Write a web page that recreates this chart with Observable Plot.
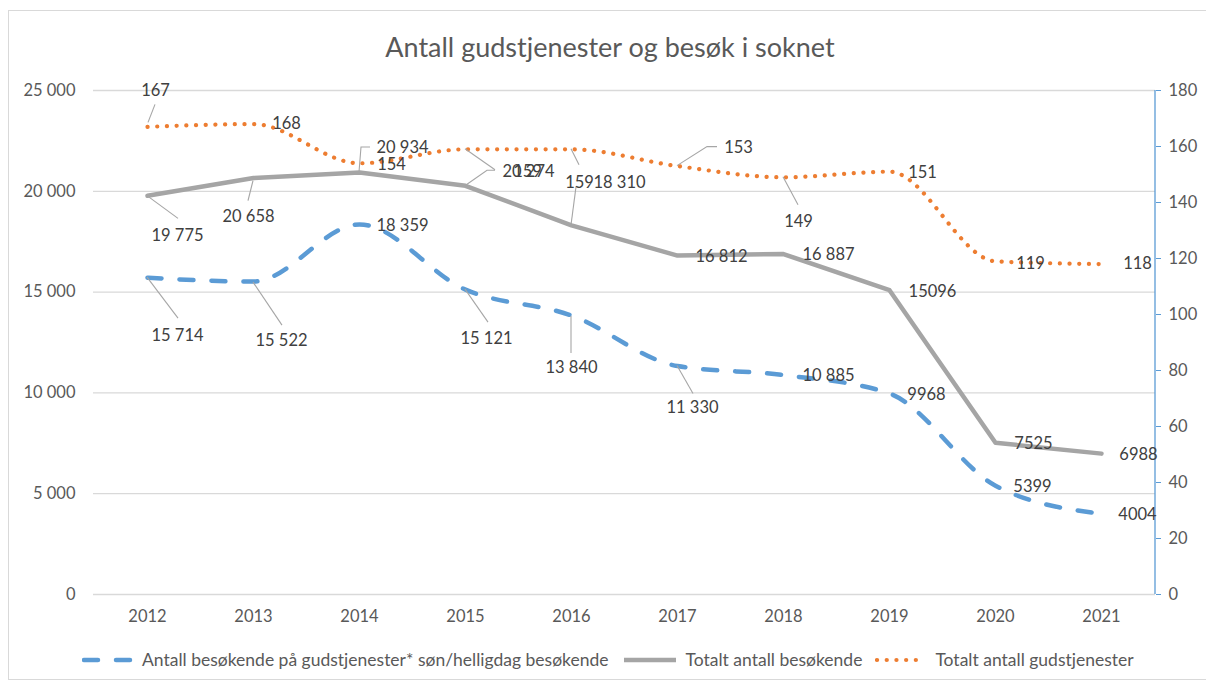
<!DOCTYPE html>
<html>
<head>
<meta charset="utf-8">
<script src="https://cdn.jsdelivr.net/npm/d3@7"></script>
<script src="https://cdn.jsdelivr.net/npm/@observablehq/plot@0.6"></script>
<style>
  body { margin: 0; background: #fff; font-family: Lato, "Open Sans", sans-serif; }
  #wrap { position: relative; width: 1206px; height: 686px; overflow: hidden; background: #fff; }
  #frame { position: absolute; left: 8px; top: 10px; width: 1210px; height: 670px; border: 1px solid #d9d9d9; box-sizing: border-box; }
  #title { position: absolute; top: 29px; left: 8px; width: 1204px; text-align: center; font-size: 27px; color: #595959; line-height: 36px; }
  #chart { position: absolute; top: 70px; left: 0; }
  #legend { position: absolute; top: 649px; left: 82px; display: flex; align-items: center; font-size: 17.5px; color: #595959; white-space: nowrap; }
  .item { display: flex; align-items: center; margin-right: 13px; }
  .item svg { margin-right: 8px; }
</style>
</head>
<body>
<div id="wrap">
  <div id="frame"></div>
  <div id="title">Antall gudstjenester og besøk i soknet</div>
  <div id="chart"></div>
  <div id="legend"></div>
</div>
<script>
// ---- data ----
const years = [2012, 2013, 2014, 2015, 2016, 2017, 2018, 2019, 2020, 2021];
const seriesNames = [
  "Antall besøkende på gudstjenester* søn/helligdag besøkende",
  "Totalt antall besøkende",
  "Totalt antall gudstjenester"
];
const visitorsHoliday = [15714, 15522, 18359, 15121, 13840, 11330, 10885, 9968, 5399, 4004];
const visitorsTotal = [19775, 20658, 20934, 20274, 18310, 16812, 16887, 15096, 7525, 6988];
const servicesTotal = [167, 168, 154, 159, 159, 153, 149, 151, 119, 118];
const visitorsHolidayLabels = ["15 714", "15 522", "18 359", "15 121", "13 840", "11 330", "10 885", "9968", "5399", "4004"];
const visitorsTotalLabels = ["19 775", "20 658", "20 934", "20 274", "18 310", "16 812", "16 887", "15096", "7525", "6988"];
const servicesTotalLabels = ["167", "168", "154", "159", "159", "153", "149", "151", "119", "118"];
const leftTicks = [0, 5000, 10000, 15000, 20000, 25000];
const rightTicks = [0, 20, 40, 60, 80, 100, 120, 140, 160, 180];

// ---- layout / style (not data) ----
const LEFT_MAX = 25000, RIGHT_MAX = 180;
const toLeft = v => v * LEFT_MAX / RIGHT_MAX;
const colors = { blue: "#5b9bd5", gray: "#a5a5a5", orange: "#ed7d31" };
const labelColor = "#404040", tickColor = "#595959", leaderColor = "#a6a6a6";
const FS = 16.5;

const blueOff = [[30,58],[28,59],[43,1],[21,49],[0,52],[15,42],[45,1],[37,1],[37,1],[36,1]];
const grayOff = [[30,40],[-5,39],[43,-25],[63,-14],[48,-43],[44,1],[45,1],[43,2],[38,1],[37,1]];
const orangeOff = [[8,-36],[33,0],[32,1],[62,22],[8,33],[61,-18],[15,44],[33,1],[35,2],[36,0]];

const blueLeaders = {0: [[0,0],[31,41]], 1: [[0,1],[29,44]], 3: [[0,0],[23,33]], 4: [[0,1],[0,38]], 5: [[0,0],[16,28]]};
const grayLeaders = {0: [[1,1],[31,23]], 1: [[0,3],[-5,23]], 2: [[0,0],[2,-25],[11,-25]], 3: [[2,-1],[22,-15],[30,-15]], 4: [[0,0],[5,-38]]};
const orangeLeaders = {0: [[1,-4],[8,-22]], 3: [[0,0],[30,21]], 4: [[0,0],[8,16]], 5: [[0,0],[30,-19],[40,-19]], 6: [[0,0],[15,28]]};

const blueRows = years.map((y, i) => ({year: y, v: visitorsHoliday[i]}));
const grayRows = years.map((y, i) => ({year: y, v: visitorsTotal[i]}));
const orangeRows = years.map((y, i) => ({year: y, v: toLeft(servicesTotal[i])}));

function labelMarks(rows, labels, offs) {
  return rows.map((r, i) => Plot.text([r], {
    x: "year", y: "v", text: () => labels[i],
    dx: offs[i][0], dy: offs[i][1],
    fill: labelColor, fontSize: FS, textAnchor: "middle"
  }));
}

function extras(...args) {
  const scales = (args[1] && typeof args[1].x === "function") ? args[1] : args[0];
  const dims = (args[3] && args[3].width) ? args[3] : args[1];
  const g = d3.create("svg:g");
  const addLeaders = (rows, leaders) => {
    for (const k of Object.keys(leaders)) {
      const r = rows[+k];
      const px = scales.x(r.year), py = scales.y(r.v);
      const pts = leaders[k].map(([dx, dy]) => [px + dx, py + dy]);
      g.append("polyline")
        .attr("points", pts.map(p => p.join(",")).join(" "))
        .attr("fill", "none").attr("stroke", leaderColor).attr("stroke-width", 1.1);
    }
  };
  addLeaders(blueRows, blueLeaders);
  addLeaders(grayRows, grayLeaders);
  addLeaders(orangeRows, orangeLeaders);
  const xr = dims.width - dims.marginRight;
  g.append("line")
    .attr("x1", xr).attr("x2", xr)
    .attr("y1", scales.y(0)).attr("y2", scales.y(LEFT_MAX))
    .attr("stroke", colors.blue).attr("stroke-width", 1.3);
  return g.node();
}

const chart = Plot.plot({
  width: 1206,
  height: 570,
  marginTop: 20,
  marginBottom: 46,
  marginLeft: 93,
  marginRight: 51,
  style: { fontFamily: "Lato, 'Open Sans', sans-serif", fontSize: FS + "px", background: "transparent" },
  x: { type: "point", domain: years, padding: 0.5, label: null },
  y: { domain: [0, LEFT_MAX], label: null },
  marks: [
    Plot.gridY(leftTicks, { stroke: "#d9d9d9", strokeOpacity: 1, strokeWidth: 1.3 }),
    Plot.axisY(leftTicks, {
      anchor: "left", tickSize: 0, tickPadding: 18, label: null,
      tickFormat: d => d3.format(",")(d).replace(/,/g, " "),
      fill: tickColor, fontSize: FS
    }),
    Plot.axisY(rightTicks.map(toLeft), {
      anchor: "right", tickSize: 5, tickPadding: 8, label: null,
      tickFormat: d => String(Math.round(d * RIGHT_MAX / LEFT_MAX)),
      stroke: colors.blue, fill: tickColor, fontSize: FS
    }),
    Plot.axisX({ tickSize: 0, tickPadding: 16, label: null, fill: tickColor, fontSize: FS, tickFormat: d => String(d) }),
    Plot.line(grayRows, { x: "year", y: "v", stroke: colors.gray, strokeWidth: 4.5 }),
    Plot.line(blueRows, { x: "year", y: "v", stroke: colors.blue, strokeWidth: 4.5,
      strokeDasharray: "14 18", strokeLinecap: "round", curve: "monotone-x" }),
    Plot.line(orangeRows, { x: "year", y: "v", stroke: colors.orange, strokeWidth: 4.2,
      strokeDasharray: "0.1 9.6", strokeLinecap: "round", curve: "monotone-x" }),
    extras,
    ...labelMarks(blueRows, visitorsHolidayLabels, blueOff),
    ...labelMarks(grayRows, visitorsTotalLabels, grayOff),
    ...labelMarks(orangeRows, servicesTotalLabels, orangeOff)
  ]
});
document.getElementById("chart").appendChild(chart);

// ---- legend ----
const legend = d3.select("#legend");
const swatches = [
  { name: seriesNames[0], stroke: colors.blue, dash: "14 18", w: 4.5, len: 52 },
  { name: seriesNames[1], stroke: colors.gray, dash: null, w: 4.5, len: 56 },
  { name: seriesNames[2], stroke: colors.orange, dash: "0.1 9.6", w: 4.2, len: 52 }
];
for (const s of swatches) {
  const item = legend.append("div").attr("class", "item");
  const sv = item.append("svg").attr("width", s.len).attr("height", 12);
  const ln = sv.append("line").attr("x1", 2).attr("x2", s.len - 2).attr("y1", 6).attr("y2", 6)
    .attr("stroke", s.stroke).attr("stroke-width", s.w);
  if (s.dash) ln.attr("stroke-dasharray", s.dash).attr("stroke-linecap", "round");
  item.append("span").text(s.name);
}
</script>
</body>
</html>
